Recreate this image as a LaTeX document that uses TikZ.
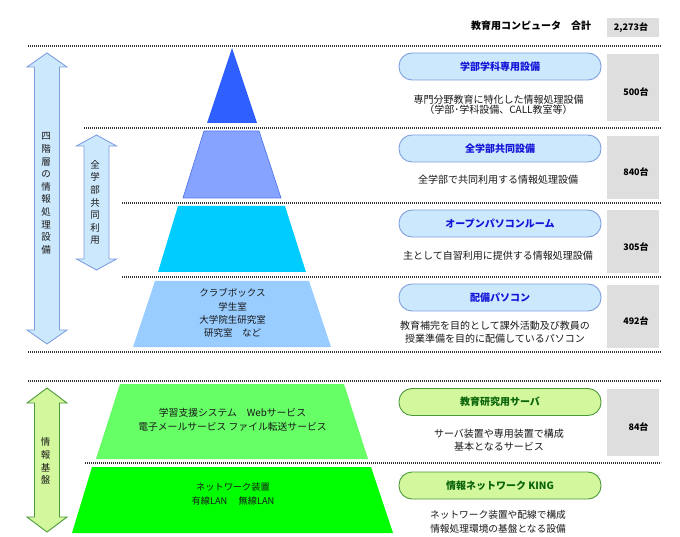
\documentclass[tikz,border=0pt]{standalone}
\usepackage{fontspec}
\setmainfont{Noto Sans CJK JP}
\definecolor{barfill}{HTML}{CCE8FC}
\definecolor{barline}{HTML}{7F9FE0}
\definecolor{gbarfill}{HTML}{D2F79C}
\definecolor{gbarline}{HTML}{4C9A3A}
\definecolor{numgray}{HTML}{DEDEDE}
\definecolor{blabel}{HTML}{1414D8}
\definecolor{glabel}{HTML}{0A640A}
\definecolor{dotline}{HTML}{303030}
\definecolor{pyrA}{HTML}{2F5FFF}
\definecolor{pyrB}{HTML}{85A3FF}
\definecolor{pyrBl}{HTML}{5577EE}
\definecolor{pyrC}{HTML}{00CCFF}
\definecolor{pyrD}{HTML}{99CCFF}
\definecolor{pyrE}{HTML}{66FF66}
\definecolor{pyrF}{HTML}{00FF00}
\tikzset{
  x=1pt,y=-1pt,
  sep/.style={draw=dotline,line width=1.1pt,dash pattern=on 1.1pt off 0.9pt},
  pillb/.style={draw=barline,fill=barfill,line width=0.9pt,rounded corners=13pt,minimum width=202pt,minimum height=27pt,inner sep=0pt,font=\fontsize{10}{12}\selectfont\bfseries,text=blabel},
  pillg/.style={pillb,draw=gbarline,fill=gbarfill,text=glabel},
  numbox/.style={fill=numgray,inner sep=0pt,minimum width=52pt},
  numtxt/.style={inner sep=0pt,font=\fontsize{9}{10}\selectfont\bfseries},
  desc/.style={align=center,inner sep=0pt,font=\fontsize{10}{10}\selectfont,text=black!90},
  lvl/.style={align=center,inner sep=0pt,font=\fontsize{9.5}{13.3}\selectfont,text=black!90},
  vtxt/.style={align=center,inner sep=0pt,font=\fontsize{9.5}{12.6}\selectfont,text=black!90},
}
\newcommand{\dblarrow}[7]{% name, cx, top, bottom, fill, line, head height
  \path[draw=#6,fill=#5,line width=0.9pt]
    (#2,#3) -- (#2+20,#3+#7) -- (#2+12.5,#3+#7) -- (#2+12.5,#4-#7) -- (#2+20,#4-#7)
    -- (#2,#4) -- (#2-20,#4-#7) -- (#2-12.5,#4-#7) -- (#2-12.5,#3+#7) -- (#2-20,#3+#7) -- cycle;
  \coordinate (#1) at (#2,{(#3+#4)/2});
}
\begin{document}
\begin{tikzpicture}
\useasboundingbox (0,0) rectangle (680,537);
\fill[white] (0,0) rectangle (680,537);

% separators
\coordinate (s1a) at (28,46);  \coordinate (s1b) at (661,46);
\coordinate (s2a) at (84,128); \coordinate (s2b) at (661,128);
\coordinate (s3a) at (122,203);\coordinate (s3b) at (661,203);
\coordinate (s4a) at (122,277);\coordinate (s4b) at (661,277);
\coordinate (s5a) at (28,352); \coordinate (s5b) at (661,352);
\coordinate (s6a) at (28,381); \coordinate (s6b) at (661,381);
\coordinate (s7a) at (85,463); \coordinate (s7b) at (661,463);
\foreach \i in {1,...,7} \draw[sep] (s\i a) -- (s\i b);

% pyramid
\fill[pyrA] (232,48) -- (257,123) -- (207,123) -- cycle;
\draw[pyrBl,fill=pyrB,line width=0.7pt] (204,131) -- (259,131) -- (281,198) -- (183,198) -- cycle;
\fill[pyrC] (178,206) -- (285,206) -- (306,272) -- (158,272) -- cycle;
\fill[pyrD] (155,281) -- (309,281) -- (331,347) -- (133,347) -- cycle;
\fill[pyrE] (120,384) -- (344,384) -- (368,459) -- (96,459) -- cycle;
\fill[pyrF] (92,467) -- (371,467) -- (393,533) -- (72,533) -- cycle;

% arrows
\dblarrow{a1}{47}{53}{344}{barfill}{barline}{14}
\dblarrow{a2}{96.5}{135}{270}{barfill}{barline}{11}
\dblarrow{a3}{47}{388}{532}{gbarfill}{gbarline}{15}
\node[vtxt] (v1) at (46,193.5) {四\\階\\層\\の\\情\\報\\処\\理\\設\\備};
\node[vtxt] (v2) at (95,202.5) {全\\学\\部\\共\\同\\利\\用};
\node[vtxt] (v3) at (45.5,461) {情\\報\\基\\盤};

% labels in pyramid
\node[lvl] (t1) at (232.5,313) {クラブボックス\\学生室\\大学院生研究室\\研究室　など};
\node[lvl,font=\fontsize{9.8}{14.5}\selectfont] (t2) at (232.5,420) {学習支援システム　Webサービス\\電子メールサービス ファイル転送サービス};
\node[lvl,font=\fontsize{9.2}{14}\selectfont] (t3) at (233,494) {ネットワーク装置\\有線LAN　 無線LAN};

% header
\node[inner sep=0pt,font=\fontsize{10}{12}\selectfont\bfseries] (hdr) at (531,26) {教育用コンピュータ　合計};
\node[numbox,minimum height=19pt] (hn) at (633,27.5) {};
\node[numtxt] at (631,28) {2,273台};

% pills
\node[pillb] (p1) at (500,66.5) {学部学科専用設備};
\node[pillb] (p2) at (500,148.5) {全学部共同設備};
\node[pillb] (p3) at (500,223.5) {オープンパソコンルーム};
\node[pillb] (p4) at (500,297.5) {配備パソコン};
\node[pillg] (p5) at (500,402) {教育研究用サーバ};
\node[pillg] (p6) at (500,485.5) {情報ネットワーク KING};

% descriptions
\node[desc] (d1) at (498.5,105) {専門分野教育に特化した情報処理設備\\（学部･学科設備、CALL教室等）};
\node[desc] (d2) at (498,180) {全学部で共同利用する情報処理設備};
\node[desc] (d3) at (498,256) {主として自習利用に提供する情報処理設備};
\node[desc,font=\fontsize{10}{13}\selectfont] (d4) at (495,332.5) {教育補完を目的として課外活動及び教員の\\授業準備を目的に配備しているパソコン};
\node[desc,font=\fontsize{10}{13}\selectfont] (d5) at (499,440.5) {サーバ装置や専用装置で構成\\基本となるサービス};
\node[desc,font=\fontsize{9.7}{14}\selectfont] (d6) at (498,522) {ネットワーク装置や配線で構成\\情報処理環境の基盤となる設備};

% number boxes
\node[numbox,minimum height=67pt] (n1) at (633,87.5) {};
\node[numtxt] at (636,92) {500台};
\node[numbox,minimum height=63pt] (n2) at (633,167.5) {};
\node[numtxt] at (636,172) {840台};
\node[numbox,minimum height=63pt] (n3) at (633,241.5) {};
\node[numtxt] at (636,247) {305台};
\node[numbox,minimum height=63pt] (n4) at (633,316.5) {};
\node[numtxt] at (636,321) {492台};
\node[numbox,minimum height=67pt] (n5) at (633,422.5) {};
\node[numtxt] at (638.5,427) {84台};
\end{tikzpicture}
\end{document}
